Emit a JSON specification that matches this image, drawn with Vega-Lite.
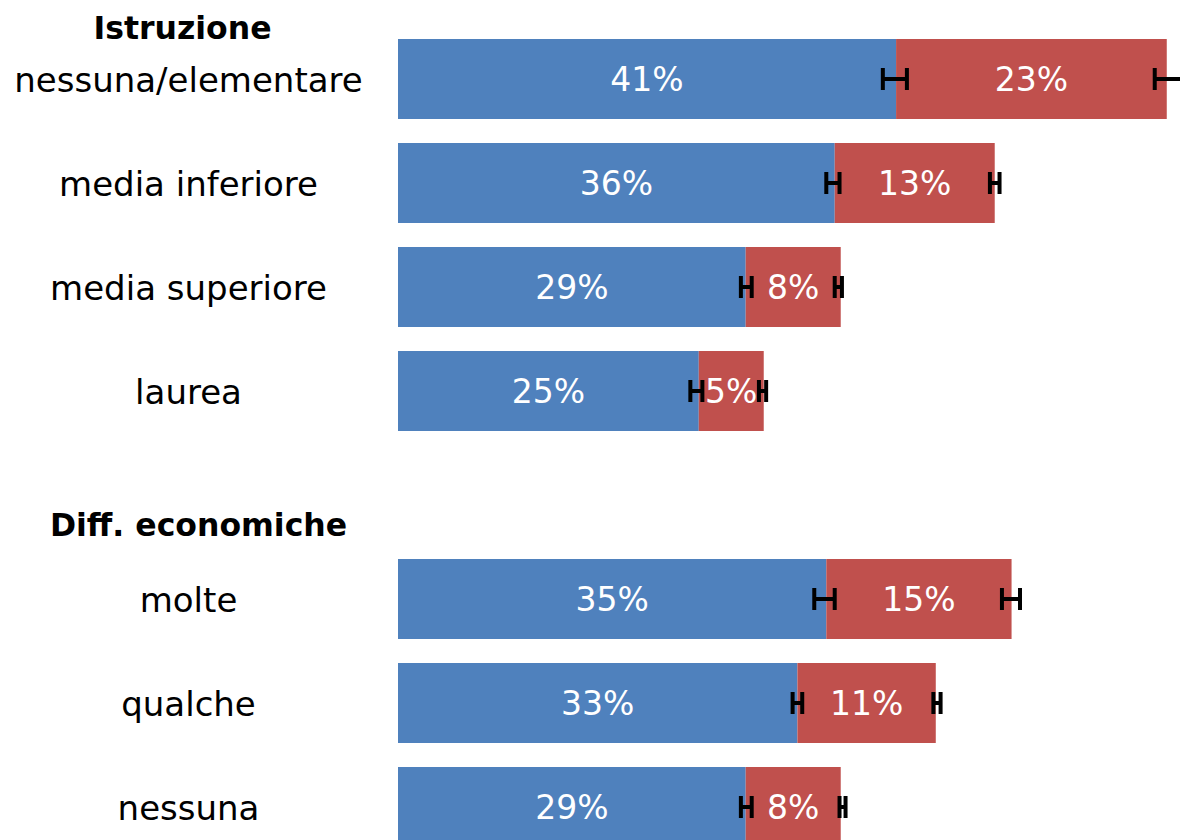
{
  "$schema": "https://vega.github.io/schema/vega-lite/v6.json",
  "width": 782,
  "height": 840,
  "autosize": {"type": "none"},
  "padding": {"left": 398, "top": 0, "right": 0, "bottom": 0},
  "background": "white",
  "config": {"view": {"stroke": null}, "font": "DejaVu Sans"},
  "data": {
    "values": [
      {"cat": "nessuna/elementare", "s": "A", "v": 41.4, "lab": "41%", "lo": 40.3, "hi": 42.3},
      {"cat": "nessuna/elementare", "s": "B", "v": 22.5, "lab": "23%", "lo": 62.9, "hi": 65.2},
      {"cat": "media inferiore", "s": "A", "v": 36.3, "lab": "36%", "lo": 35.6, "hi": 36.7},
      {"cat": "media inferiore", "s": "B", "v": 13.3, "lab": "13%", "lo": 49.2, "hi": 50.0},
      {"cat": "media superiore", "s": "A", "v": 28.9, "lab": "29%", "lo": 28.5, "hi": 29.4},
      {"cat": "media superiore", "s": "B", "v": 7.9, "lab": "8%", "lo": 36.3, "hi": 36.9},
      {"cat": "laurea", "s": "A", "v": 25.0, "lab": "25%", "lo": 24.3, "hi": 25.3},
      {"cat": "laurea", "s": "B", "v": 5.4, "lab": "5%", "lo": 30.0, "hi": 30.6},
      {"cat": "molte", "s": "A", "v": 35.6, "lab": "35%", "lo": 34.6, "hi": 36.3},
      {"cat": "molte", "s": "B", "v": 15.4, "lab": "15%", "lo": 50.2, "hi": 51.7},
      {"cat": "qualche", "s": "A", "v": 33.2, "lab": "33%", "lo": 32.8, "hi": 33.6},
      {"cat": "qualche", "s": "B", "v": 11.5, "lab": "11%", "lo": 44.5, "hi": 45.1},
      {"cat": "nessuna", "s": "A", "v": 28.9, "lab": "29%", "lo": 28.5, "hi": 29.4},
      {"cat": "nessuna", "s": "B", "v": 7.9, "lab": "8%", "lo": 36.7, "hi": 37.2}
    ]
  },
  "encoding": {
    "y": {
      "field": "cat",
      "type": "nominal",
      "title": null,
      "scale": {
        "domain": ["Istruzione", "nessuna/elementare", "media inferiore", "media superiore", "laurea", "Diff. economiche", "molte", "qualche", "nessuna"],
        "range": [-65, 847],
        "paddingInner": 0.2308,
        "paddingOuter": 0
      },
      "axis": {
        "domain": false,
        "ticks": false,
        "tickSize": 0,
        "grid": false,
        "labelAlign": "center",
        "labelBaseline": "middle",
        "labelLimit": 500,
        "labelColor": "#000000",
        "labelFont": "DejaVu Sans",
        "labelPadding": {"condition": [{"test": "datum.value === 'Istruzione'", "value": 216}, {"test": "datum.value === 'Diff. economiche'", "value": 200}], "value": 210},
        "labelFontSize": {"condition": {"test": "datum.value === 'Istruzione' || datum.value === 'Diff. economiche'", "value": 31.5}, "value": 34},
        "labelFontWeight": {"condition": {"test": "datum.value === 'Istruzione' || datum.value === 'Diff. economiche'", "value": "bold"}, "value": "normal"},
        "labelOffset": {"condition": [{"test": "datum.value === 'Istruzione'", "value": 55}, {"test": "datum.value === 'Diff. economiche'", "value": 32}], "value": 3}
      }
    }
  },
  "layer": [
    {
      "mark": {"type": "bar"},
      "encoding": {
        "x": {"field": "v", "type": "quantitative", "stack": "zero", "scale": {"domain": [0, 65], "nice": false, "zero": true}, "axis": null},
        "color": {"field": "s", "type": "nominal", "scale": {"domain": ["A", "B"], "range": ["#4F81BD", "#C0504D"]}, "legend": null},
        "order": {"field": "s", "type": "nominal", "sort": "ascending"}
      }
    },
    {
      "mark": {"type": "text", "color": "#FFFFFF", "fontSize": 33, "align": "center", "baseline": "middle", "dy": 2, "font": "DejaVu Sans"},
      "encoding": {
        "x": {"field": "v", "type": "quantitative", "stack": "zero", "bandPosition": 0.5, "scale": {"domain": [0, 65], "nice": false, "zero": true}, "axis": null},
        "detail": {"field": "s", "type": "nominal"},
        "order": {"field": "s", "type": "nominal", "sort": "ascending"},
        "text": {"field": "lab", "type": "nominal"}
      }
    },
    {
      "mark": {"type": "rule", "color": "#000000", "strokeWidth": 4},
      "encoding": {
        "x": {"field": "lo", "type": "quantitative", "scale": {"domain": [0, 65], "nice": false, "zero": true}, "axis": null},
        "x2": {"field": "hi"}
      }
    },
    {
      "mark": {"type": "tick", "color": "#000000", "size": 22, "thickness": 4, "opacity": 1},
      "encoding": {
        "x": {"field": "lo", "type": "quantitative", "scale": {"domain": [0, 65], "nice": false, "zero": true}, "axis": null}
      }
    },
    {
      "mark": {"type": "tick", "color": "#000000", "size": 22, "thickness": 4, "opacity": 1},
      "encoding": {
        "x": {"field": "hi", "type": "quantitative", "scale": {"domain": [0, 65], "nice": false, "zero": true}, "axis": null}
      }
    }
  ]
}
